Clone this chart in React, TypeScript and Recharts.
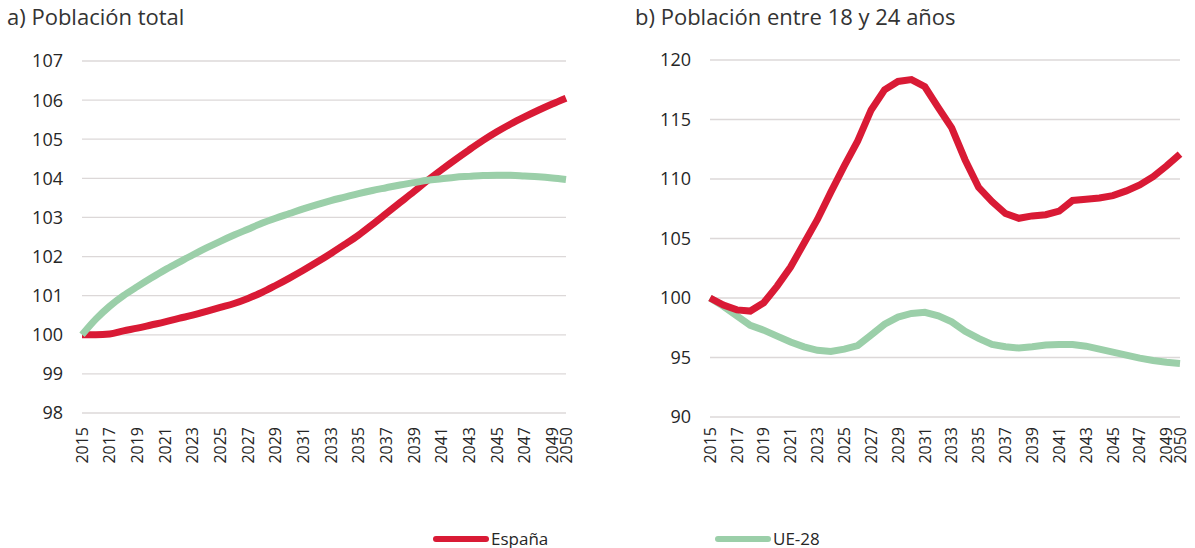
import { LineChart, Line, XAxis, YAxis, CartesianGrid } from "recharts";

const years = [
  2015, 2016, 2017, 2018, 2019, 2020, 2021, 2022, 2023, 2024, 2025, 2026,
  2027, 2028, 2029, 2030, 2031, 2032, 2033, 2034, 2035, 2036, 2037, 2038,
  2039, 2040, 2041, 2042, 2043, 2044, 2045, 2046, 2047, 2048, 2049, 2050,
];

// a) Población total
const totalEspana = [
  100.0, 100.0, 100.02, 100.1, 100.17, 100.25, 100.33, 100.42, 100.5, 100.6,
  100.7, 100.8, 100.93, 101.08, 101.26, 101.45, 101.65, 101.86, 102.08, 102.31,
  102.55, 102.82, 103.1, 103.38, 103.66, 103.95, 104.22, 104.48, 104.73, 104.97,
  105.19, 105.39, 105.57, 105.74, 105.9, 106.05,
];
const totalUE = [
  100.0, 100.4, 100.73, 101.0, 101.23, 101.45, 101.66, 101.85, 102.04, 102.22,
  102.39, 102.55, 102.7, 102.85, 102.98, 103.1, 103.22, 103.33, 103.43, 103.52,
  103.61, 103.69, 103.76, 103.83, 103.89, 103.95, 103.99, 104.03, 104.05, 104.07,
  104.08, 104.08, 104.06, 104.04, 104.01, 103.97,
];

// b) Población entre 18 y 24 años
const jovenEspana = [
  100.0, 99.4, 99.0, 98.9, 99.6, 101.0, 102.6, 104.6, 106.6, 108.9, 111.1,
  113.2, 115.8, 117.5, 118.2, 118.35, 117.75, 116.0, 114.3, 111.6, 109.3, 108.1,
  107.1, 106.7, 106.9, 107.0, 107.3, 108.2, 108.3, 108.4, 108.6, 109.0, 109.5,
  110.2, 111.1, 112.1,
];
const jovenUE = [
  100.0, 99.3, 98.5, 97.7, 97.3, 96.8, 96.3, 95.9, 95.6, 95.5, 95.7, 96.0, 96.9,
  97.8, 98.4, 98.7, 98.8, 98.5, 98.0, 97.2, 96.6, 96.1, 95.9, 95.8, 95.9, 96.05,
  96.1, 96.1, 95.95, 95.7, 95.45, 95.2, 94.95, 94.75, 94.6, 94.5,
];

const xTicks = [
  2015, 2017, 2019, 2021, 2023, 2025, 2027, 2029, 2031, 2033, 2035, 2037, 2039,
  2041, 2043, 2045, 2047, 2049, 2050,
];
const yTicksTotal = [98, 99, 100, 101, 102, 103, 104, 105, 106, 107];
const yTicksJoven = [90, 95, 100, 105, 110, 115, 120];

const seriesNames = ["España", "UE-28"];
const RED = "#D91A35";
const GREEN = "#9BCFA9";
const TEXT = "#262626";
const FONT = "'Open Sans', 'Noto Sans', sans-serif";

const totalData = years.map((y, i) => ({ year: y, esp: totalEspana[i], ue: totalUE[i] }));
const jovenData = years.map((y, i) => ({ year: y, esp: jovenEspana[i], ue: jovenUE[i] }));

function YearTick(props: any) {
  const { x, y, payload } = props;
  return (
    <text
      x={x}
      y={y}
      transform={`rotate(-90, ${x}, ${y})`}
      textAnchor="end"
      dy="0.36em"
      fill={TEXT}
      fontSize={16}
      fontFamily={FONT}
    >
      {payload.value}
    </text>
  );
}

const tickStyle = { fill: TEXT, fontSize: 18, fontFamily: FONT };

export default function App() {
  return (
    <div
      style={{
        position: "absolute",
        left: 0,
        top: 0,
        width: 1195,
        height: 548,
        background: "#fff",
        fontFamily: FONT,
        color: TEXT,
      }}
    >
      <div style={{ position: "absolute", left: 7, top: 1, fontSize: 22, color: "#333" }}>a) Población total</div>
      <div style={{ position: "absolute", left: 635, top: 1, fontSize: 22, color: "#333" }}>
        b) Población entre 18 y 24 años
      </div>

      <div style={{ position: "absolute", left: 0, top: 0 }}>
        <LineChart width={600} height={480} data={totalData} margin={{ top: 61, right: 34, bottom: 0, left: 0 }}>
          <CartesianGrid vertical={false} stroke="#DCD8D8" strokeWidth={1.3} />
          <XAxis
            dataKey="year"
            type="number"
            domain={[2015, 2050]}
            ticks={xTicks}
            interval={0}
            axisLine={false}
            tickLine={false}
            tickSize={0}
            tickMargin={14}
            tick={<YearTick />}
            height={67}
          />
          <YAxis
            domain={[98, 107]}
            ticks={yTicksTotal}
            interval={0}
            axisLine={false}
            tickLine={false}
            tickSize={0}
            tickMargin={19}
            width={82}
            tick={tickStyle}
          />
          <Line type="monotone" dataKey="esp" stroke={RED} strokeWidth={7} dot={false} isAnimationActive={false} />
          <Line type="monotone" dataKey="ue" stroke={GREEN} strokeWidth={7} dot={false} isAnimationActive={false} />
        </LineChart>
      </div>

      <div style={{ position: "absolute", left: 600, top: 0 }}>
        <LineChart width={595} height={480} data={jovenData} margin={{ top: 60, right: 15, bottom: 0, left: 0 }}>
          <CartesianGrid vertical={false} stroke="#DCD8D8" strokeWidth={1.3} />
          <XAxis
            dataKey="year"
            type="number"
            domain={[2015, 2050]}
            ticks={xTicks}
            interval={0}
            axisLine={false}
            tickLine={false}
            tickSize={0}
            tickMargin={10}
            tick={<YearTick />}
            height={63}
          />
          <YAxis
            domain={[90, 120]}
            ticks={yTicksJoven}
            interval={0}
            axisLine={false}
            tickLine={false}
            tickSize={0}
            tickMargin={19}
            width={110}
            tick={tickStyle}
          />
          <Line type="linear" dataKey="ue" stroke={GREEN} strokeWidth={7} dot={false} isAnimationActive={false} />
          <Line type="linear" dataKey="esp" stroke={RED} strokeWidth={7} dot={false} isAnimationActive={false} />
        </LineChart>
      </div>

      {/* legend */}
      {seriesNames.map((name, i) => (
        <div
          key={name}
          style={{
            position: "absolute",
            left: i === 0 ? 433 : 715,
            top: 527,
            display: "flex",
            alignItems: "center",
            fontSize: 17,
          }}
        >
          <span
            style={{
              display: "inline-block",
              width: 56,
              height: 6,
              borderRadius: 3,
              background: i === 0 ? RED : GREEN,
              marginRight: 2,
            }}
          />
          <span>{name}</span>
        </div>
      ))}
    </div>
  );
}
